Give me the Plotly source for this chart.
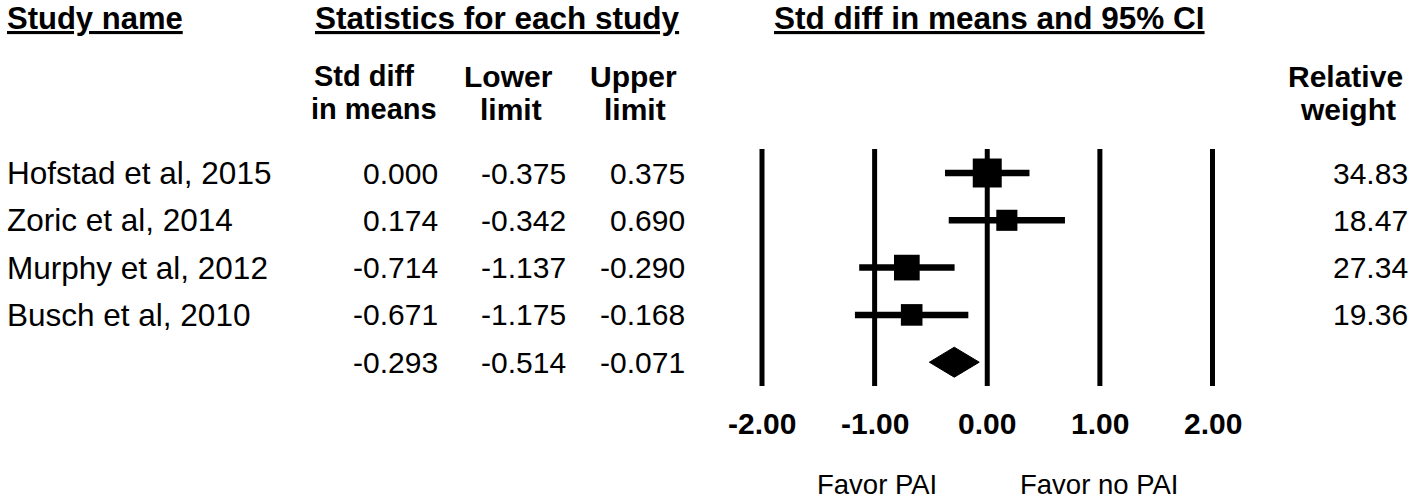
import plotly.graph_objects as go
import numpy as np

# ---------------- data ----------------
studies = ["Hofstad et al, 2015", "Zoric et al, 2014", "Murphy et al, 2012", "Busch et al, 2010"]
std_diff = [0.000, 0.174, -0.714, -0.671]
lower = [-0.375, -0.342, -1.137, -1.175]
upper = [0.375, 0.690, -0.290, -0.168]
weights = [34.83, 18.47, 27.34, 19.36]
summary_est = -0.293
summary_lower = -0.514
summary_upper = -0.071
tick_vals = [-2, -1, 0, 1, 2]
tick_labels = ["-2.00", "-1.00", "0.00", "1.00", "2.00"]

# ---------------- layout constants (screen pixels) ----------------
W, H = 1418, 504
FONT = "Liberation Sans, Arial, sans-serif"
X_LEFT_PX, X_RIGHT_PX = 762, 1212.5    # positions of -2 and +2
scale = (X_RIGHT_PX - X_LEFT_PX) / 4.0
x_range = [-2 - X_LEFT_PX / scale, 2 + (W - X_RIGHT_PX) / scale]
ROW0_PX, ROW_STEP = 173, 47.3
y_range = [(H - ROW0_PX) / ROW_STEP, -ROW0_PX / ROW_STEP]


def px(x):
    return x / W


def py(y):
    return 1 - y / H


n = len(studies)
rows = list(range(n))
summary_row = n
line_top = (149 - ROW0_PX) / ROW_STEP
line_bot = (386 - ROW0_PX) / ROW_STEP

fig = go.Figure()

# vertical reference lines at tick values
for v in tick_vals:
    fig.add_trace(go.Scatter(x=[v, v], y=[line_top, line_bot], mode="lines",
                             line=dict(color="black", width=5), hoverinfo="skip", showlegend=False))

# CI lines
err_plus = [u - e for u, e in zip(upper, std_diff)]
err_minus = [e - l for e, l in zip(std_diff, lower)]
fig.add_trace(go.Scatter(
    x=std_diff, y=rows, mode="markers",
    marker=dict(size=0.1, color="black", opacity=1),
    error_x=dict(type="data", symmetric=False, array=err_plus, arrayminus=err_minus,
                 color="black", thickness=6.5, width=0),
    hoverinfo="skip", showlegend=False))

# squares sized by weight
sizes = [4.91 * np.sqrt(w) for w in weights]
fig.add_trace(go.Scatter(
    x=std_diff, y=rows, mode="markers",
    marker=dict(symbol="square", size=sizes, color="black", opacity=1, line=dict(width=0)),
    hoverinfo="skip", showlegend=False))

# summary diamond
dh = 15 / ROW_STEP
fig.add_trace(go.Scatter(
    x=[summary_lower, summary_est, summary_upper, summary_est, summary_lower],
    y=[summary_row, summary_row - dh, summary_row, summary_row + dh, summary_row],
    mode="lines", fill="toself", fillcolor="black", line=dict(color="black", width=1),
    hoverinfo="skip", showlegend=False))

ann = []


def add(text, x, y, xanchor, yref="y", bold=False, size=30, underline=False):
    t = text
    if underline:
        t = "<u>" + t + "</u>"
    if bold:
        t = "<b>" + t + "</b>"
    ann.append(dict(text=t, x=x, y=y, xref="paper", yref=yref, xanchor=xanchor, yanchor="middle",
                    showarrow=False, font=dict(family=FONT, size=size, color="black")))


# headers
HEAD_Y = 18.5
add("Study name", px(5), py(HEAD_Y), "left", yref="paper", bold=True, size=31, underline=True)
add("Statistics for each study", px(497), py(HEAD_Y), "center", yref="paper", bold=True, size=31.5, underline=True)
add("Std diff in means and 95% CI", px(989), py(HEAD_Y), "center", yref="paper", bold=True, size=31.5, underline=True)
add("Std diff", px(364), py(76), "center", yref="paper", bold=True, size=29)
add("in means", px(374), py(109), "center", yref="paper", bold=True, size=29)
add("Lower", px(508), py(76), "center", yref="paper", bold=True, size=30)
add("limit", px(511), py(109), "center", yref="paper", bold=True, size=30)
add("Upper", px(633), py(76), "center", yref="paper", bold=True, size=30)
add("limit", px(635), py(109), "center", yref="paper", bold=True, size=30)
add("Relative", px(1405), py(76), "right", yref="paper", bold=True, size=30)
add("weight", px(1398), py(109), "right", yref="paper", bold=True, size=30)

# table rows
NAME_FS, NUM_FS = 31.5, 30
for i in range(n):
    add(studies[i], px(5), rows[i], "left", size=NAME_FS)
    add(f"{std_diff[i]:.3f}", px(440), rows[i], "right", size=NUM_FS)
    add(f"{lower[i]:.3f}", px(568), rows[i], "right", size=NUM_FS)
    add(f"{upper[i]:.3f}", px(687), rows[i], "right", size=NUM_FS)
    add(f"{weights[i]:.2f}", px(1410), rows[i], "right", size=NUM_FS)
add(f"{summary_est:.3f}", px(440), summary_row, "right", size=NUM_FS)
add(f"{summary_lower:.3f}", px(568), summary_row, "right", size=NUM_FS)
add(f"{summary_upper:.3f}", px(687), summary_row, "right", size=NUM_FS)

# tick labels
for v, lab in zip(tick_vals, tick_labels):
    ann.append(dict(text="<b>" + lab + "</b>", x=v, y=py(423), xref="x", yref="paper",
                    xanchor="center", yanchor="middle", showarrow=False,
                    font=dict(family=FONT, size=30, color="black")))

add("Favor PAI", px(877), py(484), "center", yref="paper", size=27.5)
add("Favor no PAI", px(1099), py(484), "center", yref="paper", size=27.5)

fig.update_layout(
    width=W, height=H,
    margin=dict(l=0, r=0, t=0, b=0),
    paper_bgcolor="white", plot_bgcolor="white",
    xaxis=dict(range=x_range, visible=False, fixedrange=True),
    yaxis=dict(range=y_range, visible=False, fixedrange=True),
    annotations=ann,
    showlegend=False,
)

fig.write_html("out.html",
               config={"displayModeBar": False},
               post_script="document.body.style.margin='0';document.body.style.overflow='hidden';")
